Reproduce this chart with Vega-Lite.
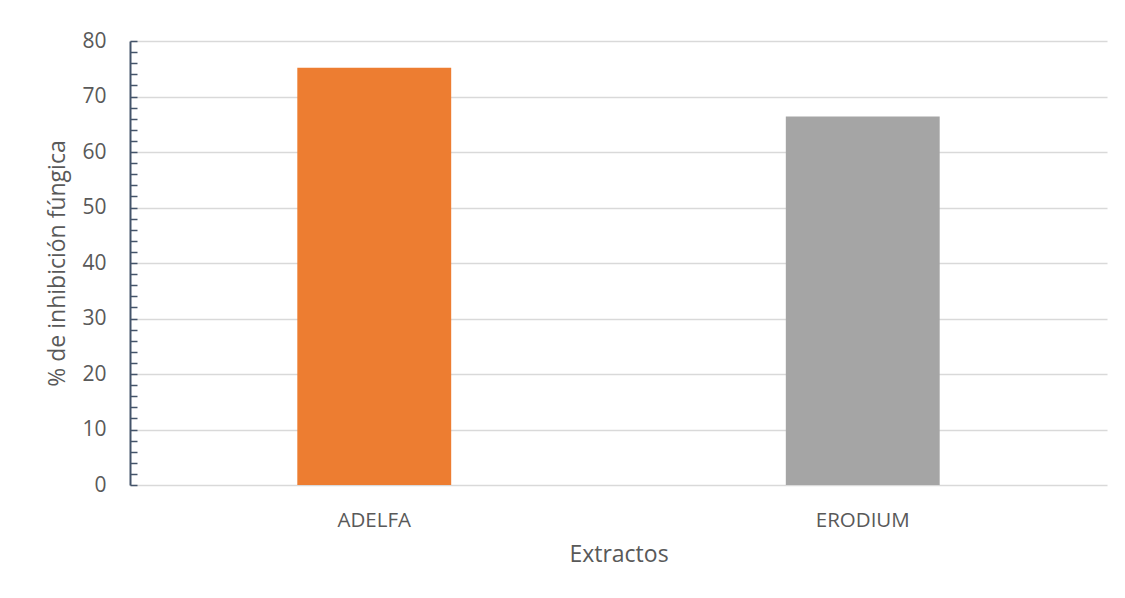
{
  "$schema": "https://vega.github.io/schema/vega-lite/v6.json",
  "autosize": "none",
  "width": 977,
  "height": 444,
  "padding": {"left": 130, "top": 41, "right": 18, "bottom": 113},
  "background": "white",
  "config": {
    "view": {"stroke": null},
    "font": "Open Sans",
    "axis": {"labelColor": "#595959", "titleColor": "#595959", "labelFont": "Open Sans", "titleFont": "Open Sans", "titleFontWeight": "normal"}
  },
  "data": {
    "values": [
      {"extracto": "ADELFA", "inhibicion": 75.2},
      {"extracto": "ERODIUM", "inhibicion": 66.4}
    ]
  },
  "mark": {"type": "bar"},
  "encoding": {
    "x": {
      "field": "extracto",
      "type": "nominal",
      "sort": null,
      "scale": {"paddingInner": 0.685, "paddingOuter": 0.3425},
      "axis": {
        "title": "Extractos",
        "labelAngle": 0,
        "labelFontSize": 20.5,
        "titleFontSize": 23,
        "ticks": false,
        "labelPadding": 25,
        "titlePadding": 13,
        "domainColor": "#D9D9D9",
        "domainWidth": 1.5,
        "grid": false
      }
    },
    "y": {
      "field": "inhibicion",
      "type": "quantitative",
      "scale": {"domain": [0, 80], "nice": false},
      "axis": {
        "title": "% de inhibición fúngica",
        "titleFontSize": 23,
        "labelFontSize": 21,
        "titlePadding": 12,
        "values": [0,2,4,6,8,10,12,14,16,18,20,22,24,26,28,30,32,34,36,38,40,42,44,46,48,50,52,54,56,58,60,62,64,66,68,70,72,74,76,78,80],
        "labelExpr": "datum.value % 10 === 0 ? datum.label : ''",
        "domainColor": "#44546A",
        "domainWidth": 2,
        "tickColor": "#44546A",
        "tickWidth": 1.5,
        "tickSize": -7,
        "labelPadding": 31,
        "grid": true,
        "gridColor": "#D9D9D9",
        "gridWidth": 1.5,
        "gridOpacity": {"condition": {"test": "datum.value % 10 === 0 && datum.value > 0", "value": 1}, "value": 0}
      }
    },
    "color": {
      "field": "extracto",
      "type": "nominal",
      "scale": {"domain": ["ADELFA", "ERODIUM"], "range": ["#ED7D31", "#A5A5A5"]},
      "legend": null
    }
  }
}
